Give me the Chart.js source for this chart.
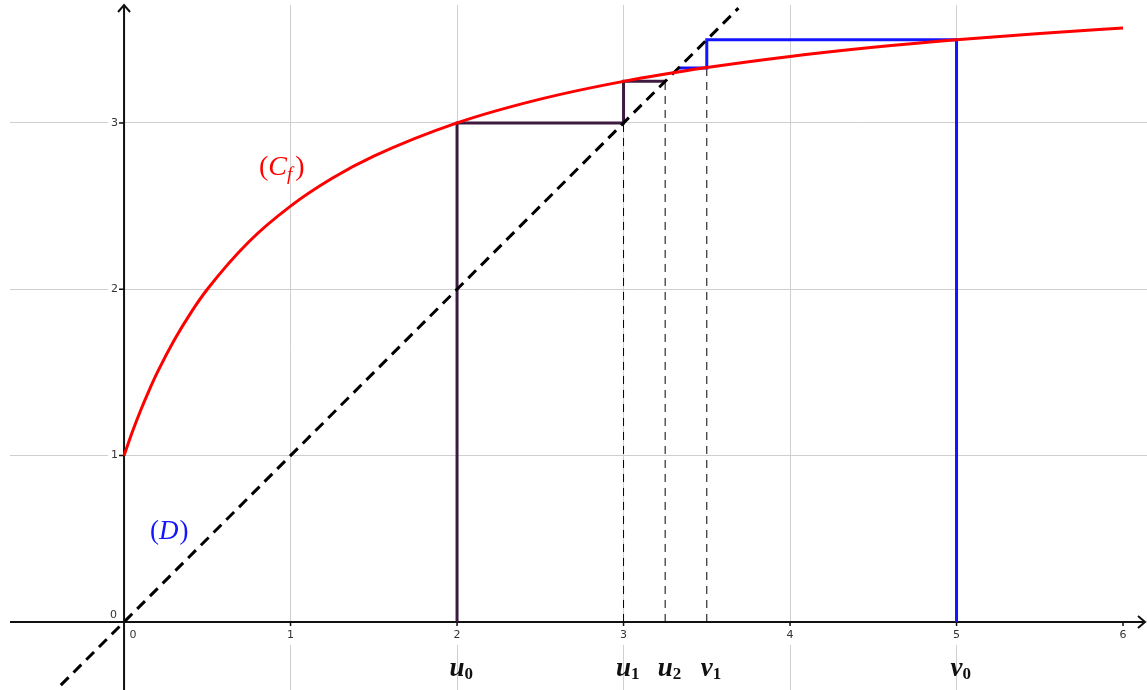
<!DOCTYPE html>
<html>
<head>
<meta charset="utf-8">
<script src="https://cdn.jsdelivr.net/npm/chart.js@4.4.1/dist/chart.umd.min.js"></script>
<style>
  html, body { margin:0; padding:0; background:#fff; }
  #wrap { width:1147px; height:690px; }
</style>
</head>
<body>
<div id="wrap"><canvas id="suiteChart"></canvas></div>
<script>
// courbe (Cf)
const curveX = [0, 0.05, 0.1, 0.15, 0.2, 0.3, 0.4, 0.5, 0.75, 1, 1.25, 1.5, 2, 2.5, 3, 3.5, 4, 4.5, 5, 5.5, 6];
const curveY = [1, 1.143, 1.273, 1.391, 1.5, 1.692, 1.857, 2, 2.286, 2.5, 2.667, 2.8, 3, 3.143, 3.25, 3.333, 3.4, 3.455, 3.5, 3.538, 3.571];

// droite (D) : y = x
const diagX = [-0.38, 3.69];
const diagY = [-0.38, 3.69];

// escaliers des suites
const uStepX = [2, 2, 3, 3, 3.25];
const uStepY = [0, 3, 3, 3.25, 3.25];
const vStepX = [5, 5, 3.5, 3.5, 3.33];
const vStepY = [0, 3.5, 3.5, 3.33, 3.33];

// pointillés verticaux
const guideX = [3, 3.25, 3.5];
const guideTop = [3, 3.25, 3.33];

const xTicks = [0, 1, 2, 3, 4, 5, 6];
const yTicks = [0, 1, 2, 3];

const termX = [2, 3, 3.25, 3.5, 5];
const termBase = ['u', 'u', 'u', 'v', 'v'];
const termIdx = ['0', '1', '2', '1', '0'];

const pts = (xs, ys) => xs.map((v, i) => ({ x: v, y: ys[i] }));

const datasets = [
  { data: pts(curveX, curveY), borderColor: '#ff0000', borderWidth: 3, cubicInterpolationMode: 'monotone' },
  { data: pts(diagX, diagY), borderColor: '#000000', borderWidth: 3, borderDash: [11, 7] },
  { data: pts(uStepX, uStepY), borderColor: '#3f1a40', borderWidth: 3 },
  { data: pts(vStepX, vStepY), borderColor: '#1414ff', borderWidth: 3 }
];
guideX.forEach((gx, i) => {
  datasets.push({ data: pts([gx, gx], [0, guideTop[i]]), borderColor: '#000000', borderWidth: 1, borderDash: [8, 6] });
});
datasets.forEach(d => { d.showLine = true; d.pointRadius = 0; d.fill = false; });

const repere = {
  id: 'repere',
  beforeDatasetsDraw(chart) {
    const { ctx, chartArea: a, scales: { x, y } } = chart;
    const x0 = x.getPixelForValue(0), y0 = y.getPixelForValue(0);
    ctx.save();

    // masque blanc sous les graduations
    ctx.fillStyle = '#fff';
    xTicks.forEach(t => { if (t > 0) ctx.fillRect(x.getPixelForValue(t) - 6, y0 + 3, 12, 20); });
    yTicks.forEach(t => { if (t > 0) ctx.fillRect(x0 - 16, y.getPixelForValue(t) - 6, 12, 12); });

    // axes
    ctx.strokeStyle = '#111';
    ctx.lineWidth = 2;
    ctx.beginPath();
    ctx.moveTo(a.left, y0); ctx.lineTo(a.right - 2, y0);
    ctx.moveTo(x0, a.bottom); ctx.lineTo(x0, a.top);
    ctx.stroke();
    ctx.beginPath();
    ctx.moveTo(a.right - 9, y0 - 6); ctx.lineTo(a.right - 2, y0); ctx.lineTo(a.right - 9, y0 + 6);
    ctx.moveTo(x0 - 6, a.top + 7); ctx.lineTo(x0, a.top); ctx.lineTo(x0 + 6, a.top + 7);
    ctx.stroke();

    // graduations
    ctx.lineWidth = 1.5;
    ctx.beginPath();
    xTicks.forEach(t => { if (t > 0) { const px = x.getPixelForValue(t); ctx.moveTo(px, y0); ctx.lineTo(px, y0 + 4); } });
    yTicks.forEach(t => { if (t > 0) { const py = y.getPixelForValue(t); ctx.moveTo(x0 - 5, py); ctx.lineTo(x0, py); } });
    ctx.stroke();

    ctx.fillStyle = '#333';
    ctx.font = '11px "DejaVu Sans"';
    ctx.textBaseline = 'middle';
    ctx.textAlign = 'center';
    xTicks.forEach(t => {
      const px = t === 0 ? x0 + 9 : x.getPixelForValue(t);
      ctx.fillText(String(t), px, y0 + 13);
    });
    ctx.textAlign = 'right';
    yTicks.forEach(t => {
      const py = t === 0 ? y0 - 7 : y.getPixelForValue(t);
      ctx.fillText(String(t), t === 0 ? x0 - 7 : x0 - 6, py);
    });
    ctx.restore();
  },
  afterDatasetsDraw(chart) {
    const { ctx, scales: { x, y } } = chart;
    const y0 = y.getPixelForValue(0);
    ctx.save();
    ctx.fillStyle = '#111';
    ctx.textBaseline = 'alphabetic';
    termX.forEach((tx, i) => {
      const px = x.getPixelForValue(tx);
      ctx.font = 'bold italic 27px "Liberation Serif"';
      const w = ctx.measureText(termBase[i]).width;
      ctx.textAlign = 'left';
      ctx.fillText(termBase[i], px - w / 2, y0 + 54);
      ctx.font = 'bold 17px "Liberation Serif"';
      ctx.fillText(termIdx[i], px + w / 2, y0 + 57);
    });

    // (Cf)
    let cx = x.getPixelForValue(0.81), cy = y.getPixelForValue(2.73);
    ctx.fillStyle = '#ff0000';
    ctx.textBaseline = 'middle';
    ctx.font = '28px "Liberation Serif"';
    ctx.fillText('(', cx, cy); cx += ctx.measureText('(').width;
    ctx.font = 'italic 28px "Liberation Serif"';
    ctx.fillText('C', cx, cy); cx += ctx.measureText('C').width;
    ctx.font = 'italic 19px "Liberation Serif"';
    ctx.fillText('f', cx, cy + 7); cx += ctx.measureText('f').width + 3;
    ctx.font = '28px "Liberation Serif"';
    ctx.fillText(')', cx, cy);

    // (D)
    let dx = x.getPixelForValue(0.156), dy = y.getPixelForValue(0.541);
    ctx.fillStyle = '#1414ff';
    ctx.font = '27px "Liberation Serif"';
    ctx.fillText('(', dx, dy); dx += ctx.measureText('(').width;
    ctx.font = 'italic 27px "Liberation Serif"';
    ctx.fillText('D', dx, dy); dx += ctx.measureText('D').width + 1;
    ctx.font = '27px "Liberation Serif"';
    ctx.fillText(')', dx, dy);
    ctx.restore();
  }
};

const gridColor = c => (c.tick && Number.isInteger(c.tick.value)) ? '#cfcfcf' : 'rgba(0,0,0,0)';

new Chart(document.getElementById('suiteChart').getContext('2d'), {
  type: 'scatter',
  data: { datasets },
  options: {
    responsive: true,
    maintainAspectRatio: false,
    animation: false,
    layout: { padding: { left: 10, top: 5, right: 0, bottom: 0 } },
    plugins: { legend: { display: false }, tooltip: { enabled: false } },
    scales: {
      x: {
        type: 'linear', min: -0.685, max: 6.144,
        border: { display: false },
        ticks: { display: false, stepSize: 1 },
        grid: { color: gridColor, lineWidth: 1, drawTicks: false }
      },
      y: {
        type: 'linear', min: -0.409, max: 3.709,
        border: { display: false },
        ticks: { display: false, stepSize: 1 },
        grid: { color: gridColor, lineWidth: 1, drawTicks: false }
      }
    }
  },
  plugins: [repere]
});
</script>
</body>
</html>
